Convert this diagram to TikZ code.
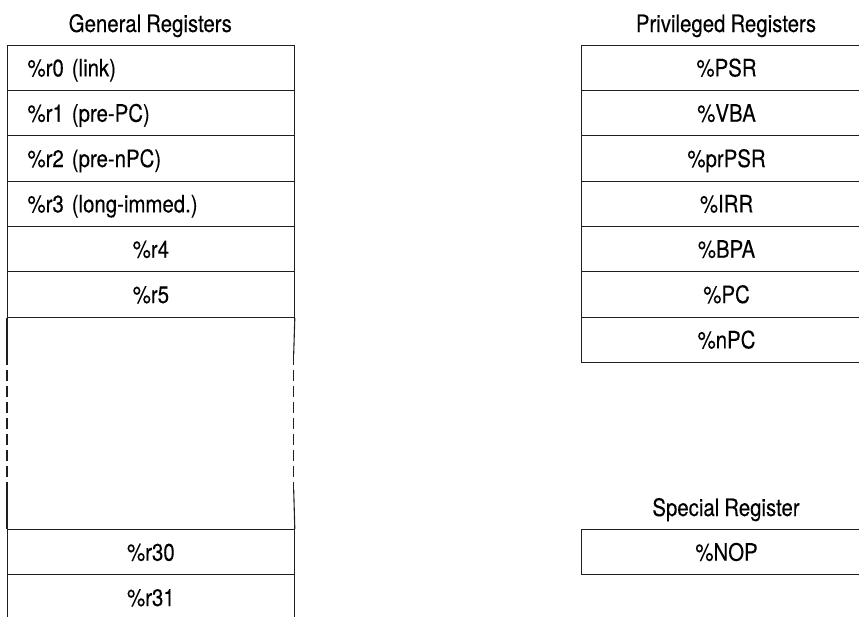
\documentclass[tikz,border=0pt]{standalone}
\usepackage{fontspec}
\setmainfont{TeX Gyre Heros}[FakeStretch=0.85,FakeBold=0.15]
\newcommand{\regfont}{\fontsize{24}{28}\selectfont\spaceskip=5pt plus 1pt minus 1pt\relax}
\begin{document}
\begin{tikzpicture}[x=1pt,y=-1pt,
  boxline/.style={line width=1.1pt, draw=black!88},
  regL/.style={boxline, draw, rectangle, anchor=north west, inner sep=0pt,
    minimum width=286.7pt, minimum height=45.33pt, text height=17pt, text depth=0pt,
    font=\regfont},
  regR/.style={regL, minimum width=290pt},
  leftlab/.style={text width=246.7pt, align=left},
  midlab/.style={text width=246.7pt, align=center},
  title/.style={anchor=base, inner sep=0pt, font=\regfont},
  gapdash/.style={boxline, dash pattern=on 10.5pt off 5.5pt}
]
\useasboundingbox (0,0) rectangle (859,616);
\clip (0,0) rectangle (859,616);
% titles
\node[title] (tg) at (150.3,32) {General Registers};
\node[title] (tp) at (726,32) {Privileged Registers};
\node[title] (ts) at (726,516) {Special Register};
% general registers
\node[regL,leftlab] (r0) at (7,44.7) {\%r0 (link)};
\node[regL,leftlab] (r1) at (7,90.03) {\%r1 (pre-PC)};
\node[regL,leftlab] (r2) at (7,135.36) {\%r2 (pre-nPC)};
\node[regL,leftlab] (r3) at (7,180.69) {\%r3 (long-immed.)};
\node[regL,midlab] (r4) at (7,226.02) {\%r4};
\node[regL,midlab] (r5) at (7,271.35) {\%r5};
\node[regL,midlab] (r30) at (7,529) {\%r30};
\node[regL,midlab] (r31) at (7,574.33) {\%r31};
% gap sides
\coordinate (la) at (7,354);
\coordinate (lb) at (7,490);
\coordinate (ra) at (293.7,354);
\coordinate (rb) at (293.7,490);
\draw[boxline] (r5.south west) -- (la);
\draw[gapdash] (la) -- (lb);
\draw[boxline] (lb) -- (r30.north west);
\draw[boxline] (r5.south east) -- (ra);
\draw[gapdash] (ra) -- (rb);
\draw[boxline] (rb) -- (r30.north east);
% privileged registers
\node[regR,midlab] (psr) at (581,44.7) {\%PSR};
\node[regR,midlab] (vba) at (581,90.03) {\%VBA};
\node[regR,midlab] (prpsr) at (581,135.36) {\%prPSR};
\node[regR,midlab] (irr) at (581,180.69) {\%IRR};
\node[regR,midlab] (bpa) at (581,226.02) {\%BPA};
\node[regR,midlab] (pc) at (581,271.35) {\%PC};
\node[regR,midlab] (npc) at (581,316.68) {\%nPC};
% special register
\node[regR,midlab] (nop) at (581,529) {\%NOP};
\end{tikzpicture}
\end{document}
